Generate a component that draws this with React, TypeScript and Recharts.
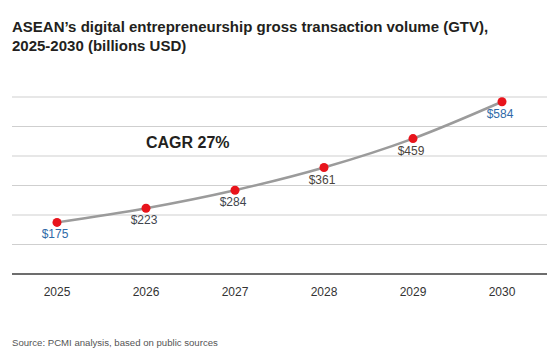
import { LineChart, Line, XAxis, YAxis, CartesianGrid, LabelList } from "recharts";

const years = ["2025", "2026", "2027", "2028", "2029", "2030"];
const gtv = [175, 223, 284, 361, 459, 584];
const yTicks = [0, 100, 200, 300, 400, 500, 600];
const labelColors = ["#2f6aa8", "#3f454d", "#3f454d", "#4a4440", "#4a4440", "#2f6aa8"];

const data = years.map((y, i) => ({ year: y, gtv: gtv[i] }));

const font = "'Liberation Sans', Arial, Helvetica, sans-serif";

function ValueLabel(props: any) {
  const { x, y, value, index } = props;
  return (
    <text x={x - 2} y={y + 16} textAnchor="middle" fontSize={12} fontFamily={font} fill={labelColors[index]}>
      ${value}
    </text>
  );
}

export default function App() {
  return (
    <div style={{ position: "absolute", left: 0, top: 0, width: 559, height: 359, background: "#fff", fontFamily: font }}>
      <div style={{ position: "absolute", left: 12, top: 17, fontSize: 15, fontWeight: 700, color: "#231f20", lineHeight: "19px", letterSpacing: 0 }}>
        ASEAN’s digital entrepreneurship gross transaction volume (GTV),
        <br />
        2025-2030 (billions USD)
      </div>
      <LineChart width={559} height={359} data={data} margin={{ top: 97, right: 12, left: 12, bottom: 55 }}>
        <CartesianGrid vertical={false} stroke="#cfcfcf" strokeWidth={1} />
        <XAxis
          dataKey="year"
          padding={{ left: 45, right: 45 }}
          axisLine={{ stroke: "#6d6d6d", strokeWidth: 2 }}
          tickLine={false}
          tickMargin={7}
          height={30}
          tick={{ fill: "#333", fontSize: 12, fontFamily: font }}
        />
        <YAxis hide domain={[0, 600]} ticks={yTicks} />
        <Line
          type="monotone"
          dataKey="gtv"
          stroke="#9b9b9b"
          strokeWidth={2.5}
          dot={{ r: 4.5, fill: "#e8141c", stroke: "#e8141c", strokeWidth: 0 }}
          isAnimationActive={false}
        >
          <LabelList dataKey="gtv" content={<ValueLabel />} />
        </Line>
      </LineChart>
      <div style={{ position: "absolute", left: 12, top: 337, fontSize: 9.6, color: "#555" }}>
        Source: PCMI analysis, based on public sources
      </div>
      <div style={{ position: "absolute", left: 146, top: 134, fontSize: 16, fontWeight: 700, color: "#231f20" }}>
        CAGR 27%
      </div>
    </div>
  );
}
